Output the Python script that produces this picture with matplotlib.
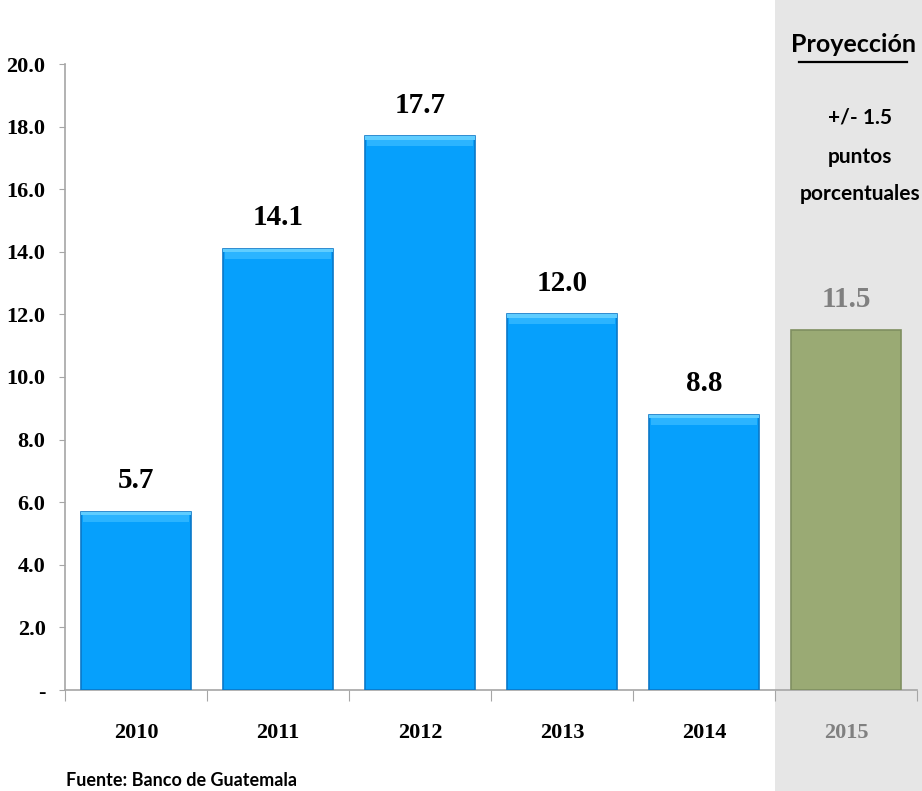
import numpy as np
import matplotlib.pyplot as plt
from matplotlib.patches import Rectangle

years = ['2010', '2011', '2012', '2013', '2014', '2015']
values = [5.7, 14.1, 17.7, 12.0, 8.8, 11.5]
is_projection = [False, False, False, False, False, True]
yticks = [0, 2, 4, 6, 8, 10, 12, 14, 16, 18, 20]
ytick_labels = ['-'] + ['%.1f' % t for t in yticks[1:]]

BLUE = '#06a0fc'
BLUE_EDGE = '#0a78c8'
GREEN = '#9aaa74'
GREEN_EDGE = '#7f8f60'
GRAY_TEXT = '#808080'
SERIF = ['Liberation Serif', 'DejaVu Serif']
SANS = ['Lato', 'DejaVu Sans']

fig = plt.figure(figsize=(9.22, 7.91), dpi=100)
W, H = 922, 791

# shaded column behind the projected year
fig.patches.append(Rectangle((775 / W, 0), 1 - 775 / W, 1, transform=fig.transFigure,
                             facecolor='#e6e6e6', edgecolor='none', zorder=0))

ax = fig.add_axes([65 / W, 101 / H, 852 / W, 626 / H])
ax.set_zorder(2)
ax.patch.set_visible(False)

x = np.arange(len(years))
colors = [GREEN if p else BLUE for p in is_projection]
edges = [GREEN_EDGE if p else BLUE_EDGE for p in is_projection]
bars = ax.bar(x, values, width=0.78, color=colors, edgecolor=edges, linewidth=1.2, zorder=3)

# light bevel along the top of the blue bars
for b, p in zip(bars, is_projection):
    if not p:
        top = b.get_height()
        ax.add_patch(Rectangle((b.get_x(), top - 0.12), b.get_width(), 0.12,
                               facecolor='#5fcdff', edgecolor='none', zorder=4))
        ax.add_patch(Rectangle((b.get_x() + 0.02, top - 0.32), b.get_width() - 0.04, 0.2,
                               facecolor='#2bb4ff', edgecolor='none', zorder=4))

for xi, v, p in zip(x, values, is_projection):
    ax.text(xi, v + 0.55, '%.1f' % v, ha='center', va='bottom', fontsize=21, fontweight='bold',
            family=SERIF, color=GRAY_TEXT if p else 'black')

ax.set_xlim(-0.5, len(years) - 0.5)
ax.set_ylim(0, 20)
ax.set_yticks(yticks)
ax.set_yticklabels(ytick_labels, fontsize=16, fontweight='bold', family=SERIF)

ax.set_xticks(np.arange(len(years) + 1) - 0.5)
ax.set_xticklabels([])
ax.set_xticks(x, minor=True)
ax.set_xticklabels(years, minor=True, fontsize=16, fontweight='bold', family=SERIF)
for lbl, p in zip(ax.get_xticklabels(minor=True), is_projection):
    if p:
        lbl.set_color(GRAY_TEXT)

ax.tick_params(axis='x', which='major', length=8, color='#a6a6a6', direction='out')
ax.tick_params(axis='x', which='minor', length=0, pad=24)
ax.tick_params(axis='y', length=4, color='#a6a6a6', pad=10)

for s in ['top', 'right']:
    ax.spines[s].set_visible(False)
for s in ['left', 'bottom']:
    ax.spines[s].set_color('#a6a6a6')
    ax.spines[s].set_linewidth(1.2)

# projection note
fig.text(853 / W, 1 - 45 / H, 'Proyección', ha='center', va='center', fontsize=18,
         fontweight='bold', family=SANS)
fig.add_artist(plt.Line2D([799 / W, 907 / W], [1 - 62 / H, 1 - 62 / H], color='black', lw=1.6))
cx = 860 / W
fig.text(cx, 1 - 118 / H, '+/- 1.5', ha='center', va='center', fontsize=15,
         fontweight='bold', family=SANS)
fig.text(cx, 1 - 157 / H, 'puntos', ha='center', va='center', fontsize=15,
         fontweight='bold', family=SANS)
fig.text(cx, 1 - 194 / H, 'porcentuales', ha='center', va='center', fontsize=15,
         fontweight='bold', family=SANS)

fig.text(66 / W, 1 - 772 / H, 'Fuente: Banco de Guatemala', ha='left', va='top', fontsize=13,
         fontweight='bold', family=SANS)

fig.savefig('out.png', dpi=100)
